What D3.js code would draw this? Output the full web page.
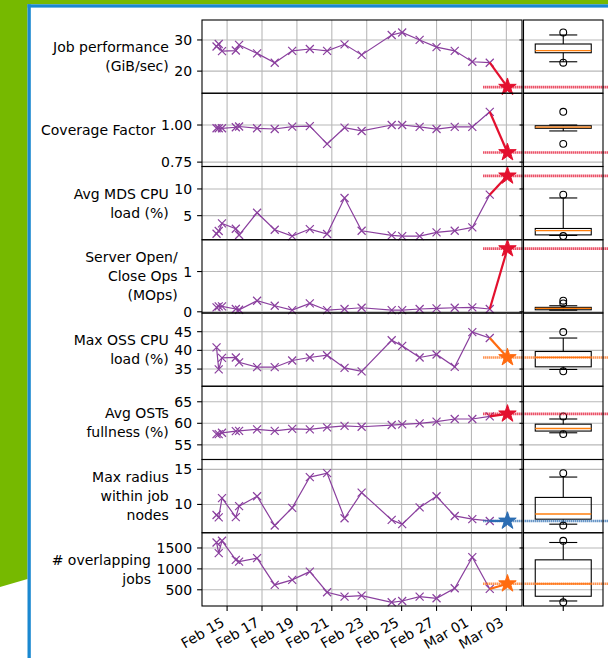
<!DOCTYPE html>
<html>
<head>
<meta charset="utf-8">
<script src="https://cdn.jsdelivr.net/npm/d3@7"></script>
<style>
  html, body { margin: 0; padding: 0; background: #fff; }
  svg { display: block; }
  text { font-family: "DejaVu Sans", sans-serif; fill: #000; }
</style>
</head>
<body>
<svg id="chart" width="608" height="658"></svg>
<script>
// ---- data -------------------------------------------------------------
const runTimes = [
  "2021-02-14T09:30", "2021-02-14T12:30", "2021-02-14T17:00", "2021-02-15T12:00",
  "2021-02-15T16:30", "2021-02-16T17:15", "2021-02-17T17:30", "2021-02-18T17:30",
  "2021-02-19T17:45", "2021-02-20T17:30", "2021-02-21T17:30", "2021-02-22T17:00",
  "2021-02-24T10:20", "2021-02-25T00:45", "2021-02-26T00:45", "2021-02-27T00:00",
  "2021-02-28T01:00", "2021-03-01T01:10", "2021-03-02T01:10"
];
const currentRunTime = "2021-03-03T01:30";

const jobPerf     = [27.9, 28.7, 26.4, 26.6, 28.4, 25.7, 22.7, 26.5, 27.1, 26.5, 28.6, 25.2, 31.6, 32.4, 30.0, 27.7, 26.5, 23.0, 22.7];
const coverage    = [0.978, 0.978, 0.978, 0.985, 0.990, 0.978, 0.973, 0.989, 0.993, 0.873, 0.982, 0.960, 1.000, 1.000, 0.987, 0.973, 0.987, 0.987, 1.089];
const mdsLoad     = [1.61, 2.12, 3.55, 2.55, 1.37, 5.55, 2.36, 1.18, 2.49, 1.56, 8.31, 2.18, 1.30, 1.18, 1.18, 1.86, 2.18, 2.80, 8.93];
const openClose   = [0.11, 0.135, 0.135, 0.07, 0.05, 0.275, 0.15, 0.04, 0.21, 0.04, 0.07, 0.10, 0.04, 0.04, 0.07, 0.085, 0.10, 0.11, 0.07];
const ossLoad     = [40.8, 34.9, 38.0, 38.1, 36.8, 35.5, 35.5, 37.3, 38.1, 38.7, 35.3, 34.4, 42.7, 41.2, 38.1, 38.9, 35.6, 44.9, 43.3];
const ostFull     = [57.5, 57.5, 57.8, 58.2, 58.25, 58.6, 58.25, 58.7, 58.6, 59.05, 59.4, 59.2, 59.6, 59.75, 60.0, 60.4, 61.0, 61.0, 61.6];
const maxRadius   = [8.5, 8.17, 10.9, 8.2, 9.76, 11.17, 7.0, 9.52, 13.9, 14.45, 8.03, 11.69, 7.8, 7.19, 9.58, 11.17, 8.36, 7.9, 7.65];
const overlapJobs = [1631, 1377, 1672, 1216, 1175, 1257, 616, 736, 935, 441, 335, 359, 201, 232, 335, 297, 537, 1281, 520];

// value of the current job for each metric
const currentValues = [14.85, 0.815, 12.45, 1.57, 38.1, 62.2, 7.65, 645];
const currentLevels = ["high", "high", "high", "high", "mid", "high", "low", "mid"];

// box summaries of the history: [whisker low, q1, median, q3, whisker high]
const boxStats = [
  [23.0, 25.9, 26.55, 28.7, 31.6],
  [0.960, 0.978, 0.986, 0.995, 1.000],
  [1.30, 1.40, 2.18, 2.60, 8.31],
  [0.04, 0.05, 0.085, 0.11, 0.15],
  [34.9, 35.6, 38.1, 39.7, 43.3],
  [57.8, 58.2, 58.8, 59.8, 61.0],
  [7.19, 7.9, 8.64, 11.0, 13.9],
  [232, 345, 640, 1216, 1631]
];
const boxFliers = [
  [32.4, 22.7],
  [1.089, 0.873],
  [8.93, 1.18],
  [0.275, 0.21],
  [44.9, 34.4],
  [61.6, 57.5],
  [14.45, 7.0],
  [1672, 201]
];

const metricLabels = [
  ["Job performance", "(GiB/sec)"],
  ["Coverage Factor"],
  ["Avg MDS CPU", "load (%)"],
  ["Server Open/", "Close Ops", "(MOps)"],
  ["Max OSS CPU", "load (%)"],
  ["Avg OSTs", "fullness (%)"],
  ["Max radius", "within job", "nodes"],
  ["# overlapping", "jobs"]
];
const yDomains = [
  [12.9, 36.4], [0.7205, 1.214], [0.49, 14.2], [-0.03, 1.79],
  [30.4, 50.0], [51.6, 68.6], [5.97, 16.4], [112, 1864]
];
const yTickValues = [
  [20, 30], [0.75, 1.00], [5, 10], [0, 1],
  [35, 40, 45], [55, 60, 65], [10, 15], [500, 1000, 1500]
];
const yTickFormats = ["d", ".2f", "d", "d", "d", "d", "d", "d"];
const xTickDates = ["2021-02-15", "2021-02-17", "2021-02-19", "2021-02-21", "2021-02-23",
                    "2021-02-25", "2021-02-27", "2021-03-01", "2021-03-03"];

// ---- layout & style ---------------------------------------------------
const W = 608, H = 658;
const plotL = 202, plotR = 522, boxL = 523.5, boxR = 603;
const panelTop = 20, panelBottom = 606;
const nPanels = 8, ph = (panelBottom - panelTop) / nPanels;
const fs = 14;
const tickLen = 4.9, tickPad = 4.9;
const purple = "#8a3f9e";
const levelColor = { high: "#e3102e", mid: "#ff6b10", low: "#2c6db2" };
const gridColor = "#b8b8b8";

const parseT = d3.timeParse("%Y-%m-%dT%H:%M");
const parseD = d3.timeParse("%Y-%m-%d");
const times = runTimes.map(parseT);
const tNow = parseT(currentRunTime);
const xTicks = xTickDates.map(parseD);

const series = [jobPerf, coverage, mdsLoad, openClose, ossLoad, ostFull, maxRadius, overlapJobs];

// x domain: data extent with 5% margins on both sides
const ext = d3.extent(times.concat([tNow]));
const span = ext[1] - ext[0];
const x = d3.scaleTime()
  .domain([new Date(+ext[0] - span * 0.05), new Date(+ext[1] + span * 0.05)])
  .range([plotL, plotR]);
const boxCx = (boxL + boxR) / 2;
const boxHalfW = 28, capHalfW = 14;

const svg = d3.select("#chart");

// ---- page frame -------------------------------------------------------
svg.append("rect").attr("width", W).attr("height", H).attr("fill", "#fff");
svg.append("rect").attr("x", 0).attr("y", 0).attr("width", W).attr("height", 4.3).attr("fill", "#76b900");
svg.append("path").attr("d", "M0,0L27.5,0L27.5,579L0,587Z").attr("fill", "#76b900");
svg.append("rect").attr("x", 27.5).attr("y", 4.3).attr("width", W - 27.5).attr("height", 3.3).attr("fill", "#1a88d0");
svg.append("rect").attr("x", 27.5).attr("y", 4.3).attr("width", 3.3).attr("height", H).attr("fill", "#1a88d0");

const line = d3.line();
const xMark = "M-4,-4L4,4M-4,4L4,-4";
const star = d3.symbol().type(d3.symbolStar).size(95);

series.forEach((vals, i) => {
  const y0 = panelTop + i * ph, y1 = y0 + ph;
  const y = d3.scaleLinear().domain(yDomains[i]).range([y1, y0]);
  const g = svg.append("g");
  const color = levelColor[currentLevels[i]];
  const fmt = d3.format(yTickFormats[i]);

  // grid
  g.append("g").selectAll("line").data(xTicks).join("line")
    .attr("x1", d => x(d)).attr("x2", d => x(d)).attr("y1", y0).attr("y2", y1)
    .attr("stroke", gridColor).attr("stroke-width", 1.1);
  g.append("g").selectAll("line").data(yTickValues[i]).join("line")
    .attr("x1", plotL).attr("x2", plotR).attr("y1", d => y(d)).attr("y2", d => y(d))
    .attr("stroke", gridColor).attr("stroke-width", 1.1);
  g.append("g").selectAll("line").data(yTickValues[i]).join("line")
    .attr("x1", boxL).attr("x2", boxR).attr("y1", d => y(d)).attr("y2", d => y(d))
    .attr("stroke", gridColor).attr("stroke-width", 1.1);

  // history series
  const pts = vals.map((v, k) => [x(times[k]), y(v)]);
  g.append("path").attr("d", line(pts)).attr("fill", "none")
    .attr("stroke", purple).attr("stroke-width", 1.2);
  g.append("g").selectAll("path").data(pts).join("path")
    .attr("d", xMark).attr("transform", d => `translate(${d[0]},${d[1]})`)
    .attr("fill", "none").attr("stroke", purple).attr("stroke-width", 1.2);

  // current job
  const last = pts[pts.length - 1];
  const cur = [x(tNow), y(currentValues[i])];
  g.append("path").attr("d", line([last, cur])).attr("fill", "none")
    .attr("stroke", color).attr("stroke-width", 2.2);

  // box summary panel
  const s = boxStats[i];
  const bg = g.append("g");
  bg.append("line").attr("x1", boxCx).attr("x2", boxCx).attr("y1", y(s[0])).attr("y2", y(s[1]))
    .attr("stroke", "#000").attr("stroke-width", 1.1);
  bg.append("line").attr("x1", boxCx).attr("x2", boxCx).attr("y1", y(s[3])).attr("y2", y(s[4]))
    .attr("stroke", "#000").attr("stroke-width", 1.1);
  bg.selectAll("line.cap").data([s[0], s[4]]).join("line").attr("class", "cap")
    .attr("x1", boxCx - capHalfW).attr("x2", boxCx + capHalfW)
    .attr("y1", d => y(d)).attr("y2", d => y(d))
    .attr("stroke", "#000").attr("stroke-width", 1.1);
  bg.append("rect").attr("x", boxCx - boxHalfW).attr("width", boxHalfW * 2)
    .attr("y", y(s[3])).attr("height", Math.max(0.5, y(s[1]) - y(s[3])))
    .attr("fill", "none").attr("stroke", "#000").attr("stroke-width", 1.1);
  bg.append("line").attr("x1", boxCx - boxHalfW).attr("x2", boxCx + boxHalfW)
    .attr("y1", y(s[2])).attr("y2", y(s[2]))
    .attr("stroke", "#ff7f0e").attr("stroke-width", 1.3);
  bg.selectAll("circle").data(boxFliers[i]).join("circle")
    .attr("cx", boxCx).attr("cy", d => y(d)).attr("r", 3.4)
    .attr("fill", "none").attr("stroke", "#000").attr("stroke-width", 1.1);

  // reference level of the current job, carried across to the summary
  g.append("line").attr("x1", plotL + (plotR - plotL) * 0.879).attr("x2", W)
    .attr("y1", cur[1]).attr("y2", cur[1])
    .attr("stroke", color).attr("stroke-width", 2.6).attr("stroke-dasharray", "1.1,0.9");

  g.append("path").attr("d", star()).attr("transform", `translate(${cur[0]},${cur[1]})`)
    .attr("fill", color).attr("stroke", color).attr("stroke-width", 1);

  // frames
  g.append("rect").attr("x", plotL).attr("y", y0).attr("width", plotR - plotL).attr("height", ph)
    .attr("fill", "none").attr("stroke", "#000").attr("stroke-width", 1.1);
  g.append("rect").attr("x", boxL).attr("y", y0).attr("width", boxR - boxL).attr("height", ph)
    .attr("fill", "none").attr("stroke", "#000").attr("stroke-width", 1.1);

  // y ticks & labels
  const tg = g.append("g");
  tg.selectAll("line.t").data(yTickValues[i]).join("line").attr("class", "t")
    .attr("x1", plotL - tickLen).attr("x2", plotL).attr("y1", d => y(d)).attr("y2", d => y(d))
    .attr("stroke", "#000").attr("stroke-width", 1.1);
  tg.selectAll("line.tb").data(yTickValues[i]).join("line").attr("class", "tb")
    .attr("x1", boxL - 4).attr("x2", boxL).attr("y1", d => y(d)).attr("y2", d => y(d))
    .attr("stroke", "#000").attr("stroke-width", 1.1);
  const labels = tg.selectAll("text").data(yTickValues[i]).join("text")
    .attr("x", plotL - tickLen - tickPad).attr("y", d => y(d) + fs * 0.36)
    .attr("text-anchor", "end").attr("font-size", fs)
    .text(d => fmt(d));
  let maxW = 0;
  labels.each(function () { maxW = Math.max(maxW, this.getComputedTextLength()); });

  // metric name
  const lines = metricLabels[i];
  const lh = 19;
  const mid = (y0 + y1) / 2;
  const lx = plotL - tickLen - tickPad - maxW - 5.6;
  const nt = g.append("text").attr("text-anchor", "end").attr("font-size", fs);
  lines.forEach((t, k) => {
    nt.append("tspan").attr("x", lx)
      .attr("y", mid + (k - (lines.length - 1) / 2) * lh + fs * 0.36)
      .text(t);
  });

  // x axis on the bottom panel only
  if (i === nPanels - 1) {
    const xg = g.append("g");
    xg.selectAll("line").data(xTicks).join("line")
      .attr("x1", d => x(d)).attr("x2", d => x(d)).attr("y1", y1).attr("y2", y1 + tickLen)
      .attr("stroke", "#000").attr("stroke-width", 1.1);
    xg.append("line").attr("x1", boxCx).attr("x2", boxCx).attr("y1", y1).attr("y2", y1 + tickLen)
      .attr("stroke", "#000").attr("stroke-width", 1.1);
    const xf = d3.timeFormat("%b %d");
    xg.selectAll("text").data(xTicks).join("text")
      .attr("font-size", fs).attr("text-anchor", "end")
      .attr("transform", d => `translate(${x(d) - 1.7},${y1 + tickLen + tickPad + 9.4}) rotate(-30)`)
      .text(d => xf(d));
  }
});
</script>
</body>
</html>
